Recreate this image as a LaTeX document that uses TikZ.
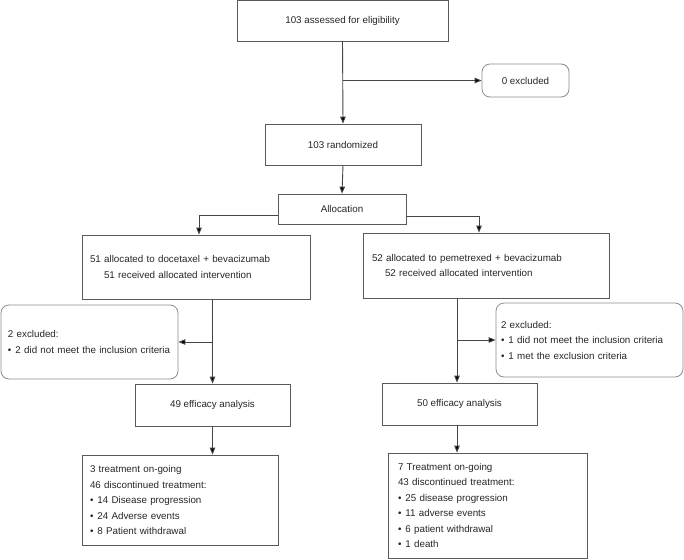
\documentclass[tikz,border=0pt]{standalone}
\usepackage{fontspec}
\setmainfont{Liberation Sans}
\usetikzlibrary{arrows.meta,calc}
\definecolor{boxc}{HTML}{5A5A5A}
\definecolor{rboxc}{HTML}{8C8C8C}
\definecolor{linec}{HTML}{454545}
\definecolor{txt}{HTML}{262626}
\begin{document}
\begin{tikzpicture}[x=1pt,y=-1pt,
  every node/.style={font=\fontsize{9.8}{15.5}\selectfont, text=txt},
  box/.style={draw=boxc, line width=0.8pt, inner sep=0pt, align=center},
  lbox/.style={draw=boxc, line width=0.8pt, inner ysep=0pt, align=left},
  rbox/.style={draw=rboxc, line width=0.8pt, rounded corners=8pt, inner ysep=0pt, align=left},
  conn/.style={draw=linec, line width=0.9pt},
  arr/.style={conn, -{Triangle[length=7pt,width=5.5pt,fill=black]}}]
\useasboundingbox (0,0) rectangle (684,559);

\node[box, minimum width=211pt, minimum height=41pt] (b1) at (342.5,20.5) {103 assessed for eligibility};
\node[rbox, align=center, inner xsep=0pt, minimum width=87pt, minimum height=33pt] (ex0) at (525.5,80.5) {0 excluded};
\node[box, minimum width=156pt, minimum height=41pt] (b2) at (343,144.5) {103 randomized};
\node[box, minimum width=128pt, minimum height=30pt] (alloc) at (342,209) {Allocation};

\node[lbox, inner xsep=8pt, text width=212pt, minimum height=64pt] (L1) at (196,267)
  {51 allocated to docetaxel + bevacizumab\\\hspace*{14pt}51 received allocated intervention};
\node[lbox, inner xsep=9pt, text width=228pt, minimum height=65pt] (R1) at (486,265.5)
  {52 allocated to pemetrexed + bevacizumab\\\hspace*{13pt}52 received allocated intervention};

\node[rbox, inner xsep=7pt, text width=163pt, minimum height=74pt] (exL) at (89.5,342)
  {2 excluded:\\\textbullet\hspace*{4pt}2 did not meet the inclusion criteria};
\node[rbox, inner xsep=5pt, text width=177pt, minimum height=74pt] (exR) at (589.5,340)
  {2 excluded:\\\textbullet\hspace*{4pt}1 did not meet the inclusion criteria\\\textbullet\hspace*{4pt}1 met the exclusion criteria};

\node[box, minimum width=155pt, minimum height=42pt] (effL) at (212.5,405) {49 efficacy analysis};
\node[box, minimum width=155pt, minimum height=42pt] (effR) at (459.5,404) {50 efficacy analysis};

\node[lbox, inner xsep=8pt, text width=180pt, minimum height=90pt] (botL) at (180,500)
  {3 treatment on-going\\46 discontinued treatment:\\\textbullet\hspace*{4pt}14 Disease progression\\\textbullet\hspace*{4pt}24 Adverse events\\\textbullet\hspace*{4pt}8 Patient withdrawal};
\node[lbox, inner xsep=10pt, text width=179pt, minimum height=105pt] (botR) at (487.5,505.5)
  {7 Treatment on-going\\43 discontinued treatment:\\\textbullet\hspace*{4pt}25 disease progression\\\textbullet\hspace*{4pt}11 adverse events\\\textbullet\hspace*{4pt}6 patient withdrawal\\\textbullet\hspace*{4pt}1 death};

% connectors
\draw[arr] (b1.south) -- (b2.north);
\draw[arr] (b1.south |- ex0.west) -- (ex0.west);
\draw[arr] (b2.south) -- (alloc.north);
\draw[arr] ([yshift=-6pt]alloc.west) -| ([xshift=3pt]L1.north);
\draw[arr] ([yshift=-7pt]alloc.east) -| ([xshift=-7pt]R1.north);

\draw[arr] (L1.south -| effL.north) -- (effL.north);
\draw[arr] (effL.north |- exL.east) -- (exL.east);
\draw[arr] (effL.south) -- (effL.south |- botL.north);

\coordinate (rv) at ([xshift=-2.5pt]effR.north);
\draw[arr] (rv |- R1.south) -- (rv);
\draw[arr] (rv |- exR.west) -- (exR.west);
\draw[arr] (rv |- effR.south) -- (rv |- botR.north);
\end{tikzpicture}
\end{document}
